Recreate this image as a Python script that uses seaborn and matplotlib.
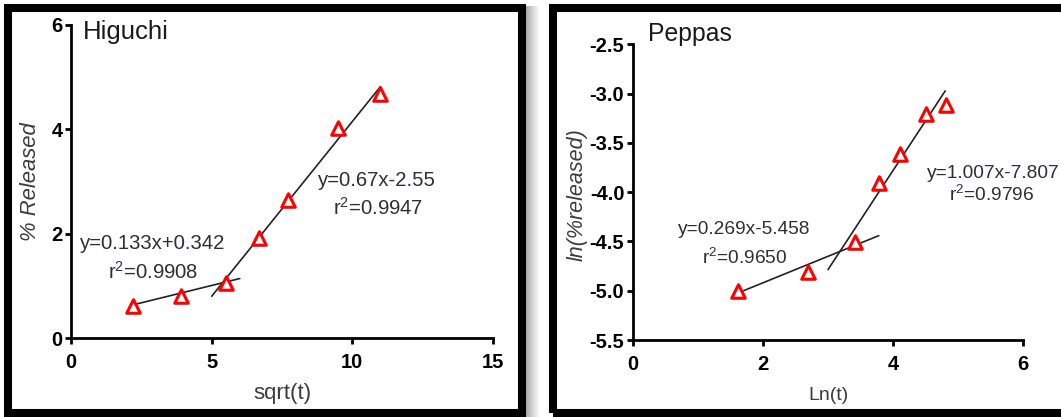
import numpy as np
import pandas as pd
import matplotlib
matplotlib.use("Agg")
import matplotlib.pyplot as plt
from matplotlib.patches import Rectangle
import seaborn as sns

# ---------------- data ----------------
higuchi_x = [2.2, 3.9, 5.5, 6.7, 7.7, 9.5, 11.0]
higuchi_y = [0.62, 0.80, 1.05, 1.92, 2.64, 4.02, 4.68]
peppas_x = [1.61, 2.70, 3.41, 3.79, 4.10, 4.51, 4.81]
peppas_y = [-5.00, -4.81, -4.51, -3.91, -3.61, -3.21, -3.12]

# fitted lines: slope, intercept, x start, x end
higuchi_fits = [(0.133, 0.342, 2.2, 6.0), (0.67, -2.55, 5.0, 11.0)]
peppas_fits = [(0.269, -5.458, 1.61, 3.78), (1.007, -7.807, 3.0, 4.8)]

higuchi_xticks = [0, 5, 10, 15]
higuchi_yticks = [0, 2, 4, 6]
peppas_xticks = [0, 2, 4, 6]
peppas_yticks = [-5.5, -5.0, -4.5, -4.0, -3.5, -3.0, -2.5]

# ---------------- style ----------------
sns.set_style("ticks")
plt.rcParams["font.family"] = ["Liberation Sans", "DejaVu Sans"]
plt.rcParams["axes.unicode_minus"] = False
plt.rcParams["mathtext.fontset"] = "custom"
plt.rcParams["mathtext.rm"] = "Liberation Sans"
plt.rcParams["mathtext.it"] = "Liberation Sans:italic"
plt.rcParams["mathtext.bf"] = "Liberation Sans:bold"

W, H = 1061, 417
fig = plt.figure(figsize=(W / 100, H / 100), dpi=100)
fig.patch.set_facecolor("white")

def fx(px):
    return px / W

def fy(py):
    return 1 - py / H

TXT = "#2e2e3a"
LAB = "#3c3c3c"

# shadow of left frame
for i in range(14):
    fig.add_artist(Rectangle((fx(525 + i), fy(417)), 1 / W, (417 - 6) / H,
                             transform=fig.transFigure, color="black",
                             alpha=0.35 * (1 - i / 14), lw=0))

# frames
fig.add_artist(Rectangle((fx(8), fy(413)), (521.5 - 8) / W, (413 - 8) / H,
                         transform=fig.transFigure, fill=False, lw=5.8,
                         ec="black"))
fig.add_artist(Rectangle((fx(552.5), fy(412.5)), (1080 - 552.5) / W, (412.5 - 8) / H,
                         transform=fig.transFigure, fill=False, lw=5.8,
                         ec="black"))

ax1 = fig.add_axes([fx(71), fy(338), (493 - 71) / W, (338 - 25) / H])
ax2 = fig.add_axes([fx(632.7), fy(340), (1023.3 - 632.7) / W, (340 - 44.3) / H])


def style_axis(ax, xt, yt, xlim, ylim, yfmt):
    ax.set_xlim(*xlim)
    ax.set_ylim(*ylim)
    ax.set_xticks(xt)
    ax.set_yticks(yt)
    ax.set_xticklabels([str(v) for v in xt])
    ax.set_yticklabels([yfmt.format(v) for v in yt])
    for s in ["top", "right"]:
        ax.spines[s].set_visible(False)
    for s in ["left", "bottom"]:
        ax.spines[s].set_linewidth(2.0)
        ax.spines[s].set_color("black")
    ax.tick_params(axis="both", direction="out", length=4.5, width=2.0,
                   color="black", labelsize=14.5, labelcolor="black")
    ax.tick_params(axis="x", pad=6.5)
    ax.tick_params(axis="y", pad=1.5)
    for lab in ax.get_xticklabels() + ax.get_yticklabels():
        lab.set_fontweight("bold")
    ax.set_facecolor("none")
    ax.set_xlabel("")
    ax.set_ylabel("")


def draw(ax, xs, ys, fits):
    for m, b, x0, x1 in fits:
        xx = np.array([x0, x1])
        sns.lineplot(x=xx, y=m * xx + b, ax=ax, color="#222222", lw=1.2,
                     zorder=2)
    sns.scatterplot(x=xs, y=ys, ax=ax, marker="^", s=95,
                    facecolors="white", edgecolors="#ff0000", linewidth=2.2,
                    zorder=3, clip_on=False)


draw(ax1, higuchi_x, higuchi_y, higuchi_fits)
style_axis(ax1, higuchi_xticks, higuchi_yticks, (0, 15), (0, 6), "{:g}")
draw(ax2, peppas_x, peppas_y, peppas_fits)
style_axis(ax2, peppas_xticks, peppas_yticks, (0, 6), (-5.5, -2.5), "{:.1f}")

# titles
fig.text(fx(83), fy(32), "Higuchi", fontsize=18.5, color="#1a1a1a",
         ha="left", va="center")
fig.text(fx(648), fy(34), "Peppas", fontsize=17.8, color="#1a1a1a",
         ha="left", va="center")

# axis labels
fig.text(fx(282), fy(393), "sqrt(t)", fontsize=16, color=LAB,
         ha="center", va="center")
fig.text(fx(30), fy(182), "% Released", fontsize=15.8, color=LAB,
         ha="center", va="center", rotation=90, style="italic")
fig.text(fx(828), fy(395), "Ln(t)", fontsize=14, color=LAB,
         ha="center", va="center")
fig.text(fx(577), fy(195), "ln(%released)", fontsize=15.5, color=LAB,
         ha="center", va="center", rotation=90, style="italic")

# equations
eqL = dict(fontsize=14.6, color=TXT, va="center", ha="left")
eqR = dict(fontsize=13.8, color=TXT, va="center", ha="left")
fig.text(fx(80), fy(243), "y=0.133x+0.342", **eqL)
fig.text(fx(108), fy(272), "r$^{2}$=0.9908", **eqL)
fig.text(fx(318), fy(180), "y=0.67x-2.55", **eqL)
fig.text(fx(333), fy(208), "r$^{2}$=0.9947", **eqL)
fig.text(fx(678), fy(230), "y=0.269x-5.458", **eqR)
fig.text(fx(702), fy(258), "r$^{2}$=0.9650", **eqR)
fig.text(fx(927), fy(173), "y=1.007x-7.807", **eqR)
fig.text(fx(949), fy(195), "r$^{2}$=0.9796", **eqR)

fig.savefig("out.png", dpi=100, facecolor="white")
